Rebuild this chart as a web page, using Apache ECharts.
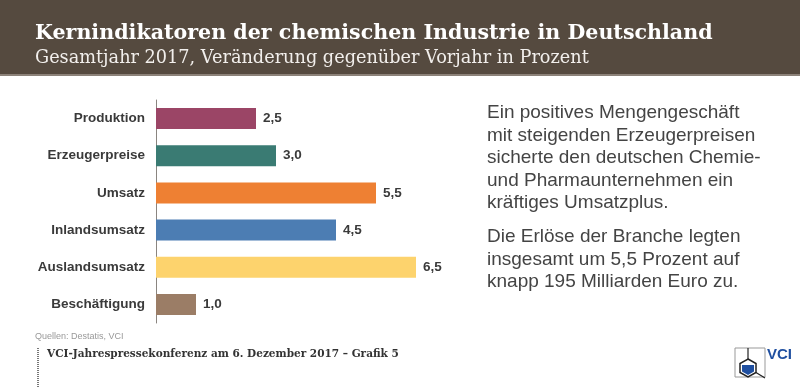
<!DOCTYPE html>
<html><head><meta charset="utf-8">
<script src="https://cdn.jsdelivr.net/npm/echarts@6/dist/echarts.min.js"></script>
<style>html,body{margin:0;padding:0;background:#fff}#c{width:800px;height:388px}</style>
</head><body><div id="c"></div>
<script>
const categories = ['Produktion','Erzeugerpreise','Umsatz','Inlandsumsatz','Auslandsumsatz','Beschäftigung'];
const values = [2.5, 3.0, 5.5, 4.5, 6.5, 1.0];
const barColors = ['#9b4566','#3a7b73','#ee8033','#4c7db3','#fdd36d','#9b7d66'];
const titleText = 'Kernindikatoren der chemischen Industrie in Deutschland';
const subtitleText = 'Gesamtjahr 2017, Veränderung gegenüber Vorjahr in Prozent';
const para1 = ['Ein positives Mengengeschäft','mit steigenden Erzeugerpreisen','sicherte den deutschen Chemie-','und Pharmaunternehmen ein','kräftiges Umsatzplus.'];
const para2 = ['Die Erlöse der Branche legten','insgesamt um 5,5 Prozent auf','knapp 195 Milliarden Euro zu.'];
const sourceText = 'Quellen: Destatis, VCI';
const footerText = 'VCI-Jahrespressekonferenz am 6. Dezember 2017 – Grafik 5';

const chart = echarts.init(document.getElementById('c'), null, {renderer:'canvas'});
const fmt = v => v.toFixed(1).replace('.', ',');
chart.setOption({
  animation:false,
  grid:{left:156, top:100, width:280, height:223},
  xAxis:{type:'value', min:0, max:7, show:false},
  yAxis:{type:'category', data:categories, inverse:true,
    axisLine:{show:true, lineStyle:{color:'#8a8580', width:1}},
    axisTick:{show:false},
    axisLabel:{color:'#3a3a3a', fontWeight:'bold', fontSize:13.5, fontFamily:'Liberation Sans, Arial', margin:11}},
  series:[{type:'bar', barWidth:21,
    data: values.map((v,i)=>({value:v, itemStyle:{color:barColors[i]}})),
    label:{show:true, position:'right', distance:7, formatter:p=>fmt(p.value),
      color:'#3a3a3a', fontWeight:'bold', fontSize:13.5, fontFamily:'Liberation Sans, Arial'}}],
  graphic:[
    {type:'rect', shape:{x:0,y:0,width:800,height:74}, style:{fill:'#554a3f'}, z:-1},
    {type:'rect', shape:{x:0,y:74,width:800,height:2}, style:{fill:'#8c8279'}, z:-1},
    {type:'text', left:35, top:23, style:{text:titleText, fill:'#ffffff', font:'bold 20.6px "DejaVu Serif", serif'}},
    {type:'text', left:35, top:49, style:{text:subtitleText, fill:'#f2efec', font:'17.7px "DejaVu Serif", serif'}},
    {type:'text', left:487, top:102, style:{text:para1.join('\n'), fill:'#444444', font:'19px "Liberation Sans", Arial', lineHeight:22.5}},
    {type:'text', left:487, top:226, style:{text:para2.join('\n'), fill:'#444444', font:'19px "Liberation Sans", Arial', lineHeight:22.5}},
    {type:'text', left:35, top:332, style:{text:sourceText, fill:'#999999', font:'9px "Liberation Sans", Arial'}},
    {type:'text', left:47, top:349, style:{text:footerText, fill:'#333333', font:'bold 10.5px "DejaVu Serif", serif'}},
    {type:'line', shape:{x1:38,y1:348,x2:38,y2:388}, style:{stroke:'#777', lineWidth:2, lineDash:[1,1]}},
    {type:'rect', shape:{x:735,y:348,width:30,height:29}, style:{fill:'none', stroke:'#999', lineWidth:1}},
    {type:'line', shape:{x1:748,y1:348,x2:748,y2:359}, style:{stroke:'#222', lineWidth:1.2}},
    {type:'line', shape:{x1:756,y1:372.5,x2:765,y2:378}, style:{stroke:'#222', lineWidth:1.2}},
    {type:'polygon', shape:{points:[[748,359],[756,363.5],[756,372.5],[748,377],[740,372.5],[740,363.5]]}, style:{fill:'none', stroke:'#222', lineWidth:1.5}},
    {type:'polygon', shape:{points:[[742,365],[754,365],[754,371.5],[748,375],[742,371.5]]}, style:{fill:'#1f4fa0'}},
    {type:'text', left:767, top:347, style:{text:'VCI', fill:'#1f4fa0', font:'bold 15px "Liberation Sans Narrow", "Liberation Sans", Arial'}}
  ]
});
</script></body></html>
